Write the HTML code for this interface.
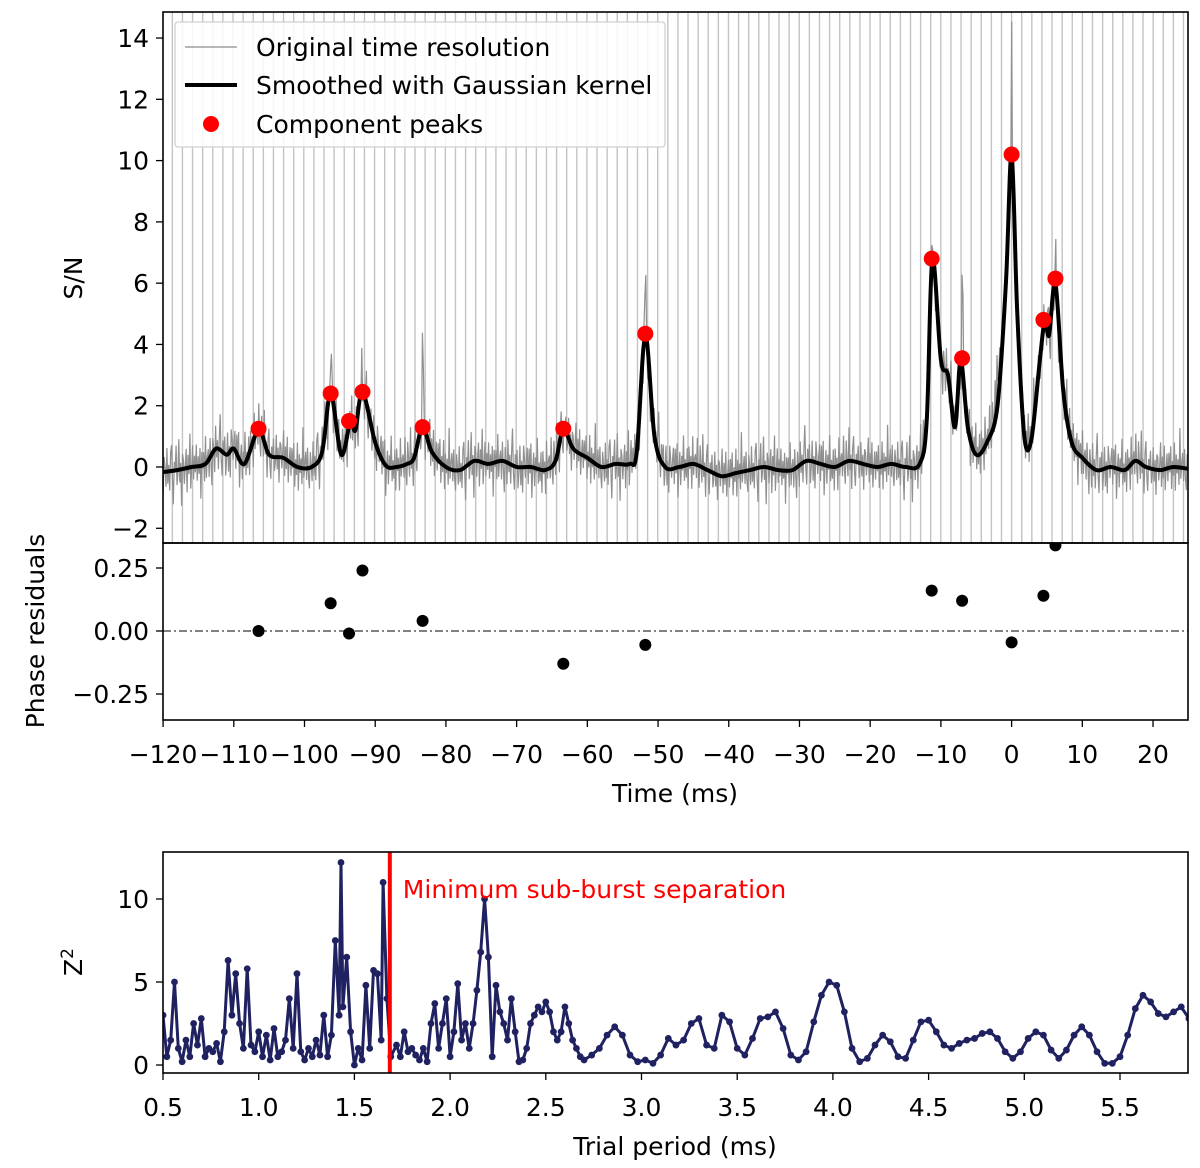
<!DOCTYPE html>
<html><head><meta charset="utf-8"><style>
html,body{margin:0;padding:0;background:#fff}
svg{display:block;font-family:"DejaVu Sans","Liberation Sans",sans-serif}
</style></head><body>
<svg id="chart" width="1200" height="1168" viewBox="0 0 1200 1168" xmlns="http://www.w3.org/2000/svg">
<defs>
<clipPath id="c1"><rect x="163" y="12" width="1025" height="531"/></clipPath>
<clipPath id="c2"><rect x="163" y="543" width="1025" height="177"/></clipPath>
<clipPath id="c3"><rect x="163" y="852" width="1025" height="221"/></clipPath>
</defs>
<g id="g1" clip-path="url(#c1)"></g>
<g id="g2" clip-path="url(#c2)"></g>
<g id="g3" clip-path="url(#c3)"></g>
<g id="axes"></g>
</svg>
<script>
// ---- data: top panel ----
const smoothT = [-121,-118,-116,-114,-112.5,-111,-110,-108.5,-106.5,-105,-103,-101,-99,-97.5,-96.3,-94.8,-93.5,-92.8,-91.8,-90,-88.5,-87,-85.5,-84.5,-83.3,-82,-80,-78,-76,-74,-72,-70,-68,-66,-64.5,-63.4,-62,-60,-58,-56,-54,-53,-51.8,-50.5,-49,-47,-45,-43,-41,-39,-37,-35,-33,-31,-29,-27,-25,-23,-21,-19,-17,-15,-13,-12,-11.2,-10,-9,-8,-7.2,-6.2,-5,-3.5,-2,-0.8,0,0.8,1.8,2.8,4,4.7,5.3,6.2,7.3,8.5,10,12,14,16,17.5,19,21,23,26];
const smoothV = [-0.2,-0.1,0,0.1,0.6,0.4,0.6,0.1,1.2,0.4,0.3,0.0,0.0,0.5,2.4,0.4,1.5,1.2,2.45,0.8,0.05,0.0,0.1,0.3,1.3,0.5,0.0,-0.1,0.2,0.1,0.2,0.0,0.0,-0.1,0.2,1.25,0.6,0.3,0.0,0.1,0.1,0.5,4.3,1.0,0.0,0.0,0.1,-0.1,-0.3,-0.2,-0.1,0,-0.1,-0.1,0.2,0.1,0,0.2,0.1,0.0,0.1,0.0,0.1,1.5,6.8,3.5,3.0,1.3,3.5,1.3,0.4,0.8,2.0,6,10.2,5,1.0,0.9,3.5,4.8,4.3,6.0,2.5,0.8,0.3,-0.1,0,-0.1,0.2,0,-0.1,0,-0.1];
const jitter = [0.5,-0.6,0.9,-0.3,-1.0,0.7,0.1,-0.7,1.1,-0.4,0.3,-0.9,0.6,1.2,-0.3,-1.1,0.4,0.0,0.8,-0.7,-0.2,1.0,-0.6,0.3,-1.2,0.7,0.4,-0.5,0.2,0.9,-0.8,0.6,-0.3,1.1,-1.0,0.0,0.7,-0.6,0.5,-0.2,1.0,-0.7,0.3,-0.4,0.8,-1.1,0.6,-0.2,0.4,-0.8,1.3,-0.5,0.2];
const spikeT = [-96.3,-83.3,-51.8,-11.3,-7,0,6.2,-2,-92];
const spikeV = [1.3,2.4,2.0,2.2,2.5,4.0,0.6,1.5,0.8];
const peakT = [-106.5,-96.3,-93.7,-91.8,-83.3,-63.4,-51.8,-11.3,-7,0,4.5,6.2];
const peakV = [1.25,2.4,1.5,2.45,1.3,1.25,4.35,6.8,3.55,10.2,4.8,6.15];
const resid = [0.00,0.11,-0.01,0.24,0.04,-0.13,-0.055,0.16,0.12,-0.045,0.14,0.34];
const foldPeriod = 1.43;
const xTicks1 = [-120,-110,-100,-90,-80,-70,-60,-50,-40,-30,-20,-10,0,10,20];
const yTicks1 = [-2,0,2,4,6,8,10,12,14];
const yTicks2 = [-0.25,0,0.25];
// ---- data: periodogram ----
const periods = [0.50,0.52,0.54,0.56,0.58,0.60,0.62,0.64,0.66,0.68,0.70,0.72,0.74,0.76,0.78,0.80,0.82,0.84,0.86,0.88,0.90,0.92,0.94,0.96,0.98,1.00,1.02,1.04,1.06,1.08,1.10,1.12,1.14,1.16,1.18,1.20,1.22,1.24,1.26,1.28,1.30,1.32,1.34,1.36,1.38,1.40,1.42,1.43,1.44,1.46,1.48,1.50,1.52,1.54,1.56,1.58,1.60,1.62,1.64,1.65,1.67,1.69,1.72,1.74,1.76,1.78,1.80,1.82,1.84,1.86,1.88,1.90,1.92,1.94,1.96,1.98,2.00,2.02,2.04,2.06,2.08,2.10,2.12,2.14,2.16,2.18,2.20,2.22,2.24,2.26,2.28,2.30,2.32,2.34,2.36,2.38,2.40,2.42,2.44,2.46,2.48,2.50,2.52,2.54,2.56,2.58,2.60,2.62,2.64,2.66,2.68,2.70,2.74,2.78,2.82,2.86,2.90,2.94,2.98,3.02,3.06,3.10,3.14,3.18,3.22,3.26,3.30,3.34,3.38,3.42,3.46,3.50,3.54,3.58,3.62,3.66,3.70,3.74,3.78,3.82,3.86,3.90,3.94,3.98,4.02,4.06,4.10,4.14,4.18,4.22,4.26,4.30,4.34,4.38,4.42,4.46,4.50,4.54,4.58,4.62,4.66,4.70,4.74,4.78,4.82,4.86,4.90,4.94,4.98,5.02,5.06,5.10,5.14,5.18,5.22,5.26,5.30,5.34,5.38,5.42,5.46,5.50,5.54,5.58,5.62,5.66,5.70,5.74,5.78,5.82,5.86];
const z2 = [3.0,0.5,1.5,5.0,1.0,0.2,1.5,0.5,2.5,1.2,2.8,0.5,1.0,0.8,1.3,0.2,2.0,6.3,3.0,5.5,2.5,1.0,5.8,1.2,0.8,2.0,0.5,1.8,0.3,2.2,0.5,0.8,1.5,4.0,1.0,5.5,0.8,0.3,1.0,0.5,1.5,0.6,3.0,0.5,1.8,7.5,3.0,12.2,3.5,6.5,2.0,0.0,1.0,0.3,4.8,1.0,5.7,5.5,1.5,11.0,4.0,0.5,1.2,0.5,2.0,0.8,1.0,0.6,0.3,1.0,0.2,2.5,3.7,1.0,2.5,4.0,0.5,2.0,4.9,1.5,2.5,1.0,2.5,4.5,6.8,10.0,6.5,0.5,4.8,3.2,2.5,1.5,4.0,2.0,0.2,0.3,1.0,2.5,3.0,3.5,3.2,3.8,3.2,2.0,1.5,2.0,3.5,2.5,1.5,1.0,0.5,0.3,0.6,1.0,1.8,2.3,1.8,0.6,0.2,0.3,0.1,0.6,1.6,1.2,1.5,2.5,2.8,1.2,1.0,3.0,2.6,1.0,0.6,1.6,2.8,2.9,3.2,2.2,0.6,0.3,0.8,2.6,4.2,5.0,4.8,3.2,1.0,0.2,0.4,1.2,1.8,1.4,0.5,0.4,1.5,2.6,2.7,2.0,1.2,1.0,1.3,1.5,1.6,1.9,2.0,1.6,0.8,0.4,0.8,1.6,2.0,1.8,0.9,0.4,0.9,1.8,2.3,1.8,0.8,0.1,0.1,0.5,1.8,3.4,4.2,3.8,3.1,2.9,3.2,3.5,2.8,1.5];
const minSep = 1.685;
const xTicks3 = [0.5,1.0,1.5,2.0,2.5,3.0,3.5,4.0,4.5,5.0,5.5];
const yTicks3 = [0,5,10];

// ---- scales ----
const L=163,R=1188;
const X1 = t => 1011.6 + t*7.071;
const Y1 = v => 467 - v*30.64;
const Y2 = v => 631 - v*252;
const X3 = p => 163 + (p-0.5)*191.4;
const Y3 = v => 1065 - v*16.6;
const NS='http://www.w3.org/2000/svg';
const FS=25;
function mk(tag, attrs, parent){const e=document.createElementNS(NS,tag);for(const k in attrs)e.setAttribute(k,attrs[k]);parent.appendChild(e);return e;}
const g1=document.getElementById('g1'),g2=document.getElementById('g2'),g3=document.getElementById('g3'),ax=document.getElementById('axes');

function interp(t){for(let i=0;i<smoothT.length-1;i++){if(t>=smoothT[i]&&t<=smoothT[i+1]){const f=(t-smoothT[i])/(smoothT[i+1]-smoothT[i]);return smoothV[i]+f*(smoothV[i+1]-smoothV[i]);}}return 0;}

for(let k=-90;k<=20;k++){const x=X1(k*foldPeriod);if(x<L||x>R)continue;
 const l=mk('line',{x1:x,x2:x,y1:12,y2:543,stroke:'#c4c4c4','stroke-width':1.4},g1);
 
 }
let d='';let i=0;
for(let t=-120.5;t<=25.5;t+=0.13,i++){
 let v=interp(t)+jitter[i%jitter.length]*(i%3===0?1.0:0.7);
 for(let s=0;s<spikeT.length;s++){if(Math.abs(t-spikeT[s])<0.12)v+=spikeV[s];}
 d+=(d?'L':'M')+X1(t).toFixed(1)+','+Y1(v).toFixed(1);}
const gray=mk('path',{d:d,fill:'none',stroke:'#909090','stroke-width':1.2},g1);


const pts=smoothT.map((t,j)=>[X1(t),Y1(smoothV[j])]);
let sd='M'+pts[0][0]+','+pts[0][1];
for(let j=0;j<pts.length-1;j++){const p0=pts[Math.max(j-1,0)],p1=pts[j],p2=pts[j+1],p3=pts[Math.min(j+2,pts.length-1)];
 sd+='C'+(p1[0]+(p2[0]-p0[0])/6).toFixed(1)+','+(p1[1]+(p2[1]-p0[1])/6).toFixed(1)+' '+(p2[0]-(p3[0]-p1[0])/6).toFixed(1)+','+(p2[1]-(p3[1]-p1[1])/6).toFixed(1)+' '+p2[0].toFixed(1)+','+p2[1].toFixed(1);}
const blk=mk('path',{d:sd,fill:'none',stroke:'#000','stroke-width':4,'stroke-linejoin':'round'},g1);


peakT.forEach((t,j)=>{const c=mk('circle',{cx:X1(t),cy:Y1(peakV[j]),r:8,fill:'#ff0000'},g1);
 
 });
const zl=mk('line',{x1:L,x2:R,y1:Y2(0),y2:Y2(0),stroke:'#000','stroke-width':1,'stroke-dasharray':'8,3,2,3'},g2);


peakT.forEach((t,j)=>{const c=mk('circle',{cx:X1(t),cy:Y2(resid[j]),r:6,fill:'#000'},g2);
 
 });
const zd=periods.map((p,j)=>(j?'L':'M')+X3(p).toFixed(1)+','+Y3(z2[j]).toFixed(1)).join('');
const zp=mk('path',{d:zd,fill:'none',stroke:'#1f2160','stroke-width':3,'stroke-linejoin':'round'},g3);


periods.forEach((p,j)=>{const c=mk('circle',{cx:X3(p),cy:Y3(z2[j]),r:3.4,fill:'#1f2160'},g3);
 
 });
const ms=mk('line',{x1:X3(minSep),x2:X3(minSep),y1:852,y2:1073,stroke:'#ff0000','stroke-width':4},g3);


const mt=mk('text',{x:X3(minSep)+13,y:898,fill:'#ff0000','font-size':FS},ax);mt.textContent='Minimum sub-burst separation';



[[12,543,'top-panel-frame'],[543,720,'residual-panel-frame'],[852,1073,'periodogram-frame']].forEach(f=>{
 const r=mk('rect',{x:L,y:f[0],width:R-L,height:f[1]-f[0],fill:'none',stroke:'#000','stroke-width':1.6},ax);
 
 });
function txt(x,y,s,anchor,name,size){const t=mk('text',{x:x,y:y,'text-anchor':anchor,'font-size':size||FS},ax);t.textContent=s;
 
 return t;}
function fmt(v,dp){return (v<0?'\u2212':'')+Math.abs(v).toFixed(dp);}
xTicks1.forEach(v=>{mk('line',{x1:X1(v),x2:X1(v),y1:720,y2:727,stroke:'#000','stroke-width':1.3},ax);txt(X1(v),763,fmt(v,0),'middle','x-tick-label');});
yTicks1.forEach(v=>{mk('line',{x1:156,x2:L,y1:Y1(v),y2:Y1(v),stroke:'#000','stroke-width':1.3},ax);txt(149,Y1(v)+9,fmt(v,0),'end','y-tick-label');});
yTicks2.forEach(v=>{mk('line',{x1:156,x2:L,y1:Y2(v),y2:Y2(v),stroke:'#000','stroke-width':1.3},ax);txt(149,Y2(v)+9,fmt(v,2),'end','residual-tick-label');});
xTicks3.forEach(v=>{mk('line',{x1:X3(v),x2:X3(v),y1:1073,y2:1080,stroke:'#000','stroke-width':1.3},ax);txt(X3(v),1116,v.toFixed(1),'middle','period-tick-label');});
yTicks3.forEach(v=>{mk('line',{x1:156,x2:L,y1:Y3(v),y2:Y3(v),stroke:'#000','stroke-width':1.3},ax);txt(149,Y3(v)+9,String(v),'end','z2-tick-label');});
txt(675,802,'Time (ms)','middle','x-axis-title');
txt(675,1155,'Trial period (ms)','middle','period-axis-title');
let t=txt(0,0,'S/N','middle','y-axis-title');t.setAttribute('transform','translate(82,278) rotate(-90)');
t=txt(0,0,'Phase residuals','middle','residual-axis-title');t.setAttribute('transform','translate(44,631) rotate(-90)');
t=mk('text',{'text-anchor':'middle','font-size':FS,transform:'translate(82,962) rotate(-90)'},ax);
t.innerHTML='Z<tspan dy="-9" font-size="17">2</tspan>';


const lg=mk('g',{},ax);


mk('rect',{x:175,y:22,width:490,height:125,rx:3,fill:'#fff','fill-opacity':0.85,stroke:'#d0d0d0','stroke-width':1.3},lg);
mk('line',{x1:185,x2:237,y1:47,y2:47,stroke:'#8c8c8c','stroke-width':1.3},lg);
mk('line',{x1:185,x2:237,y1:85,y2:85,stroke:'#000','stroke-width':4},lg);
mk('circle',{cx:211,cy:124,r:8,fill:'#ff0000'},lg);
[['Original time resolution',56,'legend-entry-original'],['Smoothed with Gaussian kernel',94,'legend-entry-smoothed'],['Component peaks',133,'legend-entry-peaks']].forEach(e=>{
 const tt=mk('text',{x:256,y:e[1],'font-size':FS},lg);tt.textContent=e[0];
 
 });
</script>
</body></html>
